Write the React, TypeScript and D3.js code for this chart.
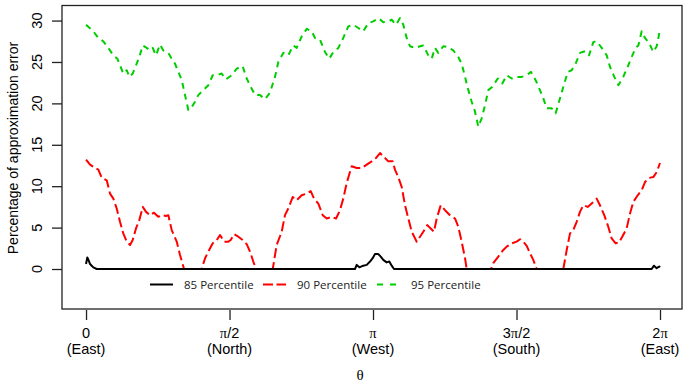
import * as d3 from "d3";
import React, { useEffect, useRef } from "react";

// theta (radians), percentage of approximation error
const p85: [number, number][] = [
  [0.0, 0.6], [0.014, 1.4], [0.03, 1.0], [0.044, 0.6], [0.062, 0.4], [0.08, 0.2], [0.117, 0],
  [2.944, 0], [2.963, 0.5], [2.992, 0.2], [3.035, 0.4], [3.073, 0.5], [3.109, 0.9], [3.138, 1.3],
  [3.163, 1.8], [3.2, 1.8], [3.226, 1.5], [3.254, 1.1], [3.291, 0.8], [3.32, 0.9], [3.346, 0.4],
  [3.371, 0], [6.192, 0], [6.217, 0.4], [6.247, 0.1], [6.275, 0.3], [6.283, 0.2],
];

const p90: [number, number][] = [
  [0.0, 13.2], [0.044, 12.6], [0.099, 12.2], [0.135, 12.0], [0.172, 11.0], [0.227, 10.7],
  [0.263, 9.1], [0.299, 8.5], [0.336, 7.3], [0.372, 5.7], [0.408, 4.3], [0.446, 3.3], [0.482, 2.9],
  [0.511, 3.5], [0.547, 4.9], [0.583, 5.9], [0.621, 7.5], [0.657, 6.9], [0.701, 6.5], [0.744, 6.8],
  [0.791, 6.3], [0.829, 6.5], [0.876, 6.4], [0.901, 6.5], [0.938, 4.7], [0.993, 3.3], [1.029, 1.7],
  [1.073, 0], [1.266, 0], [1.303, 1.3], [1.339, 2.1], [1.387, 3.1], [1.431, 3.5], [1.467, 4.1],
  [1.511, 3.3], [1.558, 3.3], [1.584, 3.5], [1.62, 4.2], [1.667, 3.9], [1.715, 3.5], [1.759, 3.0],
  [1.795, 2.1], [1.831, 0.9], [1.861, 0], [2.044, 0], [2.087, 2.9], [2.142, 4.5], [2.178, 6.5],
  [2.214, 7.3], [2.263, 8.7], [2.306, 8.3], [2.361, 8.9], [2.416, 9.1], [2.46, 9.4], [2.496, 8.5],
  [2.543, 7.9], [2.591, 6.5], [2.635, 6.1], [2.689, 6.3], [2.737, 6.1], [2.78, 7.1], [2.816, 8.5],
  [2.854, 10.4], [2.908, 12.4], [2.963, 12.2], [3.018, 12.2], [3.073, 12.6], [3.127, 13.0],
  [3.174, 13.4], [3.218, 14.0], [3.273, 13.4], [3.309, 13.0], [3.357, 13.0], [3.382, 12.0],
  [3.418, 11.1], [3.456, 9.9], [3.492, 7.7], [3.528, 6.1], [3.565, 4.5], [3.62, 3.3], [3.656, 3.9],
  [3.692, 4.5], [3.736, 5.3], [3.773, 4.9], [3.809, 4.5], [3.839, 6.1], [3.883, 7.7], [3.93, 7.1],
  [3.984, 6.5], [4.039, 6.1], [4.075, 5.1], [4.112, 3.3], [4.149, 1.3], [4.167, 0], [4.433, 0],
  [4.458, 0.7], [4.513, 1.5], [4.568, 2.3], [4.605, 2.7], [4.66, 3.1], [4.714, 3.3], [4.751, 3.6],
  [4.787, 3.3], [4.824, 2.8], [4.86, 1.9], [4.896, 1.1], [4.933, 0], [5.225, 0], [5.262, 2.3],
  [5.298, 4.3], [5.334, 4.7], [5.371, 5.7], [5.407, 6.9], [5.444, 7.7], [5.492, 7.5], [5.535, 7.9],
  [5.59, 8.5], [5.626, 7.7], [5.673, 6.5], [5.717, 5.1], [5.754, 3.7], [5.798, 3.1], [5.834, 3.2],
  [5.87, 3.9], [5.918, 4.9], [5.955, 6.7], [5.991, 8.1], [6.039, 8.9], [6.083, 9.5], [6.119, 10.5],
  [6.163, 11.0], [6.21, 11.1], [6.247, 11.7], [6.283, 12.8],
];

const p95: [number, number][] = [
  [0.0, 29.5], [0.08, 28.7], [0.135, 27.9], [0.189, 27.5], [0.244, 26.7], [0.299, 25.8],
  [0.343, 25.4], [0.372, 24.6], [0.408, 23.6], [0.446, 24.0], [0.474, 23.2], [0.511, 23.6],
  [0.547, 24.6], [0.583, 25.6], [0.621, 27.0], [0.664, 26.7], [0.701, 26.4], [0.73, 26.7],
  [0.766, 25.8], [0.81, 27.1], [0.846, 26.4], [0.901, 26.1], [0.938, 25.4], [0.974, 24.8],
  [1.004, 24.0], [1.048, 22.8], [1.084, 21.0], [1.12, 19.2], [1.149, 19.4], [1.193, 20.2],
  [1.229, 21.0], [1.284, 21.6], [1.339, 22.2], [1.387, 23.4], [1.431, 23.4], [1.485, 23.6],
  [1.532, 22.9], [1.595, 23.4], [1.65, 24.2], [1.715, 24.5], [1.751, 23.2], [1.803, 22.0],
  [1.85, 21.0], [1.905, 21.0], [1.959, 20.5], [2.014, 21.3], [2.05, 22.6], [2.069, 23.2],
  [2.105, 25.0], [2.16, 26.1], [2.214, 25.8], [2.269, 27.0], [2.306, 26.7], [2.361, 28.1],
  [2.416, 29.0], [2.471, 28.7], [2.507, 27.9], [2.561, 27.7], [2.616, 26.2], [2.663, 25.4],
  [2.707, 26.2], [2.762, 26.7], [2.816, 27.9], [2.871, 29.3], [2.926, 29.5], [2.981, 29.1],
  [3.035, 28.7], [3.09, 29.7], [3.145, 29.9], [3.2, 30.3], [3.254, 29.8], [3.309, 29.9],
  [3.346, 30.1], [3.393, 29.5], [3.437, 30.3], [3.473, 29.5], [3.51, 27.9], [3.546, 26.9],
  [3.601, 26.7], [3.656, 26.9], [3.692, 27.0], [3.747, 25.8], [3.784, 25.4], [3.82, 26.7],
  [3.856, 26.1], [3.911, 26.9], [3.966, 26.8], [4.02, 26.4], [4.075, 25.6], [4.112, 24.8],
  [4.149, 23.2], [4.185, 21.6], [4.222, 20.2], [4.258, 19.0], [4.294, 17.2], [4.331, 18.2],
  [4.368, 19.8], [4.404, 21.6], [4.448, 22.0], [4.507, 23.0], [4.557, 22.4], [4.605, 23.4],
  [4.66, 23.0], [4.714, 23.2], [4.769, 23.2], [4.824, 23.4], [4.871, 23.8], [4.922, 22.8],
  [4.969, 21.6], [5.006, 20.6], [5.043, 19.4], [5.098, 19.4], [5.141, 18.8], [5.188, 20.6],
  [5.225, 22.0], [5.273, 23.8], [5.316, 24.0], [5.36, 24.8], [5.407, 26.1], [5.462, 26.3],
  [5.506, 25.8], [5.553, 27.4], [5.59, 27.5], [5.645, 26.7], [5.7, 25.8], [5.736, 24.4],
  [5.783, 23.2], [5.827, 22.2], [5.881, 23.2], [5.936, 24.6], [5.973, 25.6], [6.017, 26.7],
  [6.046, 27.0], [6.083, 28.7], [6.119, 27.9], [6.163, 27.3], [6.21, 26.2], [6.247, 26.9],
  [6.283, 28.9],
];

const xTicks = [0, Math.PI / 2, Math.PI, (3 * Math.PI) / 2, 2 * Math.PI];
const xTickTop = ["0", "\u03c0/2", "\u03c0", "3\u03c0/2", "2\u03c0"];
const xTickBottom = ["(East)", "(North)", "(West)", "(South)", "(East)"];
const yTicks = [0, 5, 10, 15, 20, 25, 30];

const series = [
  { name: "95 Percentile", data: p95, color: "#00cd00", dash: "6,5" },
  { name: "90 Percentile", data: p90, color: "#ff0000", dash: "10,4" },
  { name: "85 Percentile", data: p85, color: "#000000", dash: null },
];

const width = 692;
const height = 387;
const sans = "'Liberation Sans', Arial, sans-serif";

const App = () => {
  const ref = useRef<HTMLDivElement>(null);

  useEffect(() => {
    const left = 62, right = 682, top = 5.5, bottom = 309;
    const xScale = d3.scaleLinear().domain([-0.263, 6.524]).range([left, right]);
    const yScale = d3.scaleLinear().domain([-4.83, 31.82]).range([bottom, top]);

    const svg = d3.create("svg")
      .attr("width", width)
      .attr("height", height)
      .style("position", "absolute")
      .style("left", 0)
      .style("top", 0)
      .style("background", "#fff");

    const line = d3.line<[number, number]>()
      .x(d => xScale(d[0]))
      .y(d => yScale(d[1]));

    series.forEach(s => {
      const p = svg.append("path")
        .attr("d", line(s.data))
        .attr("fill", "none")
        .attr("stroke", s.color)
        .attr("stroke-width", 2)
        .attr("stroke-linejoin", "round");
      if (s.dash) p.attr("stroke-dasharray", s.dash);
    });

    // box
    svg.append("rect")
      .attr("x", left)
      .attr("y", top)
      .attr("width", right - left)
      .attr("height", bottom - top)
      .attr("fill", "none")
      .attr("stroke", "#222")
      .attr("stroke-width", 1.3);

    // x axis
    const xAxis = svg.append("g")
      .attr("transform", `translate(0, ${bottom + 1})`)
      .call(d3.axisBottom(xScale).tickValues(xTicks).tickSize(10).tickFormat(() => ""));
    xAxis.select(".domain").remove();
    xAxis.selectAll("line").attr("stroke", "#222").attr("stroke-width", 1.3);

    xTicks.forEach((t, i) => {
      const tx = svg.append("text")
        .attr("x", xScale(t))
        .attr("y", 338)
        .attr("text-anchor", "middle")
        .style("font-family", sans)
        .style("font-size", "14.5px");
      xTickTop[i].split(/(\u03c0)/).filter(p => p !== "").forEach(part => {
        const sp = tx.append("tspan").text(part);
        if (part === "\u03c0") sp.style("font-family", "'Liberation Serif', serif");
      });
      svg.append("text")
        .attr("x", xScale(t))
        .attr("y", 354)
        .attr("text-anchor", "middle")
        .style("font-family", sans)
        .style("font-size", "14.5px")
        .text(xTickBottom[i]);
    });

    svg.append("text")
      .attr("x", 360)
      .attr("y", 380)
      .attr("text-anchor", "middle")
      .style("font-family", "'Liberation Serif', serif")
      .style("font-size", "15px")
      .text("\u03b8");

    // y axis
    const yAxis = svg.append("g")
      .attr("transform", `translate(${left}, 0)`)
      .call(d3.axisLeft(yScale).tickValues(yTicks).tickSize(10).tickFormat(() => ""));
    yAxis.select(".domain").remove();
    yAxis.selectAll("line").attr("stroke", "#222").attr("stroke-width", 1.3);

    yTicks.forEach(t => {
      svg.append("text")
        .attr("transform", `translate(42, ${yScale(t)}) rotate(-90)`)
        .attr("text-anchor", "middle")
        .style("font-family", sans)
        .style("font-size", "14.5px")
        .text(t);
    });

    svg.append("text")
      .attr("transform", `translate(18, 148) rotate(-90)`)
      .attr("text-anchor", "middle")
      .style("font-family", sans)
      .style("font-size", "14px")
      .text("Percentage of approximation error");

    // legend
    const legend = [
      { s: series[2], x: 150 },
      { s: series[1], x: 263 },
      { s: series[0], x: 377 },
    ];
    legend.forEach(({ s, x }) => {
      const l = svg.append("line")
        .attr("x1", x)
        .attr("x2", x + 23)
        .attr("y1", 284.5)
        .attr("y2", 284.5)
        .attr("stroke", s.color)
        .attr("stroke-width", 2);
      if (s.dash) l.attr("stroke-dasharray", s.name === "90 Percentile" ? "10,3.5" : "6,7");
      svg.append("text")
        .attr("x", x + 34)
        .attr("y", 288.5)
        .style("font-family", "'Open Sans', sans-serif")
        .style("font-size", "11.5px")
        .style("fill", "#222")
        .text(s.name);
    });

    if (ref.current) {
      ref.current.innerHTML = "";
      ref.current.appendChild(svg.node() as SVGSVGElement);
    }
  }, []);

  return <div ref={ref}></div>;
};

export default App;
